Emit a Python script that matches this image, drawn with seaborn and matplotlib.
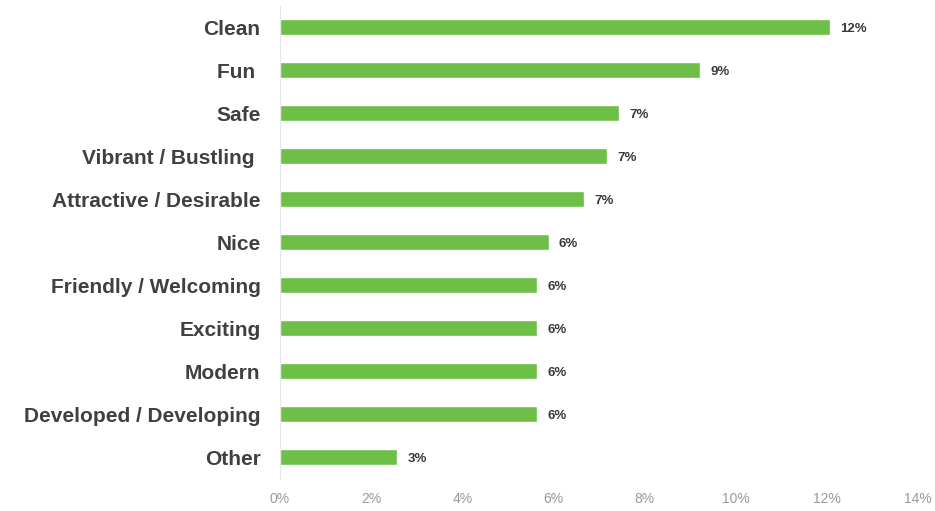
import matplotlib
matplotlib.use("Agg")
import matplotlib.pyplot as plt
import seaborn as sns
import pandas as pd
from matplotlib.ticker import FuncFormatter

# Share of responses per descriptor (percent)
categories = [
    "Clean", "Fun ", "Safe", "Vibrant / Bustling ", "Attractive / Desirable",
    "Nice", "Friendly / Welcoming", "Exciting", "Modern",
    "Developed / Developing", "Other",
]
shares = [12.07, 9.22, 7.44, 7.18, 6.67, 5.90, 5.64, 5.64, 5.64, 5.64, 2.57]
x_ticks = [0, 2, 4, 6, 8, 10, 12, 14]

df = pd.DataFrame({"category": categories, "share": shares})

sns.set_theme(style="white")
plt.rcParams["font.family"] = ["Liberation Sans", "DejaVu Sans"]

fig = plt.figure(figsize=(9.35, 5.11), dpi=100)
ax = fig.add_axes([0.2995, 0.0636, 0.6825, 0.925])

sns.barplot(data=df, x="share", y="category", orient="h", color="#6DBF48",
            saturation=1, width=0.37, ax=ax)

for i, v in enumerate(df["share"]):
    ax.text(v + 0.22, i, f"{v:.0f}%", va="center_baseline", ha="left",
            fontsize=9.5, fontweight="bold", color="#3a3a3a")

ax.set_xlim(0, 14)
ax.set_ylim(len(categories) - 0.5, -0.5)
ax.set_xticks(x_ticks)
ax.xaxis.set_major_formatter(FuncFormatter(lambda v, _: f"{v:.0f}%"))
ax.tick_params(axis="x", length=0, pad=10, labelsize=10, labelcolor="#9a9a9a")
ax.tick_params(axis="y", length=0, pad=14, labelsize=15)
for lbl in ax.get_yticklabels():
    lbl.set_fontweight("bold")
    lbl.set_color("#404040")
ax.set_xlabel("")
ax.set_ylabel("")

for side in ["top", "right", "bottom"]:
    ax.spines[side].set_visible(False)
ax.spines["left"].set_color("#e4e4e4")
ax.spines["left"].set_linewidth(0.8)

fig.savefig("out.png", dpi=100)
